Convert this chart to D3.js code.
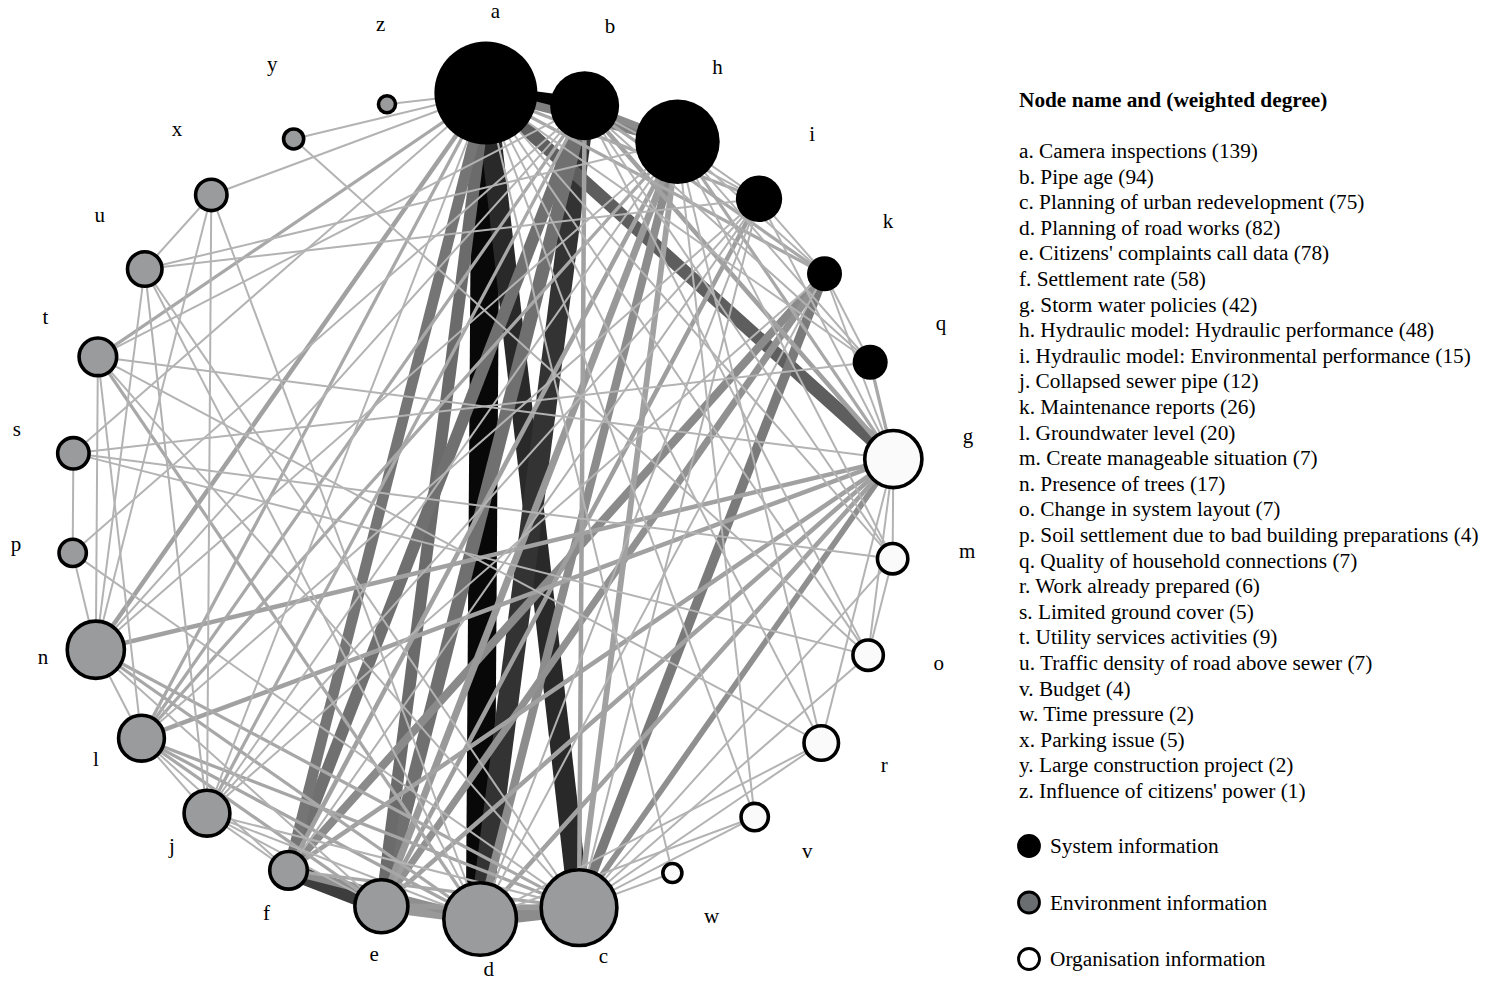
<!DOCTYPE html>
<html><head><meta charset="utf-8">
<script src="https://cdn.jsdelivr.net/npm/d3@7"></script>
<style>
body{margin:0;background:#fff}
svg{display:block}
text{font-family:"Liberation Serif","Times New Roman",serif;fill:#000}
</style>
</head><body>
<svg id="chart" width="1496" height="982"></svg>
<script>
// ---- data ----
// nodes in their clockwise order around the circle, starting at the top
const ringOrder = ["a","b","h","i","k","q","g","m","o","r","v","w","c","d","e","f","j","l","n","p","s","t","u","x","y","z"];
const legendOrder = ["a","b","c","d","e","f","g","h","i","j","k","l","m","n","o","p","q","r","s","t","u","v","w","x","y","z"];
const nodeNames = ["Camera inspections","Pipe age","Planning of urban redevelopment","Planning of road works",
  "Citizens' complaints call data","Settlement rate","Storm water policies","Hydraulic model: Hydraulic performance",
  "Hydraulic model: Environmental performance","Collapsed sewer pipe","Maintenance reports","Groundwater level",
  "Create manageable situation","Presence of trees","Change in system layout","Soil settlement due to bad building preparations",
  "Quality of household connections","Work already prepared","Limited ground cover","Utility services activities",
  "Traffic density of road above sewer","Budget","Time pressure","Parking issue","Large construction project",
  "Influence of citizens' power"];
const weightedDegree = [139,94,75,82,78,58,42,48,15,12,26,20,7,17,7,4,7,6,5,9,7,4,2,5,2,1];
const nodeGroup = ["System","System","Environment","Environment","Environment","Environment","Organisation","System",
  "System","Environment","System","Environment","Organisation","Environment","Organisation","Environment","System",
  "Organisation","Environment","Environment","Environment","Organisation","Organisation","Environment","Environment","Environment"];
// relative node size (as drawn), a = 100
const nodeSize = [100,67,77,74,55,40,59,82,45,48,34,48,33,59,33,30,34,37,34,40,37,30,22,34,23,20];
const groups = ["System","Environment","Organisation"];
const groupLabels = ["System information","Environment information","Organisation information"];

// edges: [source, target, weight, tone (0 = white .. 100 = black)]
const edges = [
  ["a","d",22,97],["a","c",16,84],["b","d",16,80],["f","e",13,76],["a","b",12,99],["d","c",12,45],
  ["a","g",10,63],["a","e",9,58],["b","e",10,56],["e","d",8,40],["a","f",8,54],["b","f",9,56],
  ["k","c",7,52],["f","d",6,44],["a","h",6,50],["b","h",5,45],["k","e",5,43],["h","d",6,45],
  ["k","f",6,46],["g","c",4,44],["e","c",4,40],["h","e",5,40],["i","e",3,38],["b","g",3,37],
  ["g","d",3,37],["g","e",3,37],["g","f",3,37],["l","g",3,37],["n","g",3,37],["n","a",3,37],
  ["b","c",3,37],["h","c",4,37],["h","f",3,37],["l","d",2,35],["l","c",2,35],["l","e",2,34],
  ["j","b",2,34],["t","a",2,34],["t","d",2,34],["i","c",1,31],["i","d",1,31],["n","c",2,34],
  ["n","d",2,34],["b","k",2,34],["a","k",2,34],["a","i",2,34],["b","i",1,31],["h","i",1,31],
  ["u","j",1,31],["l","a",2,34],["l","b",2,34],["l","h",2,34],["q","g",2,34],["b","q",1,31],
  ["f","c",2,34],["i","f",1,31],["h","g",2,34],
  ["z","a",1,30],["y","a",1,30],["y","o",1,30],["x","a",1,30],["x","u",1,30],["x","j",1,30],
  ["x","n",1,30],["x","d",1,30],["w","a",1,30],["w","c",1,30],["v","h",1,30],["v","a",1,30],
  ["v","c",1,30],["v","d",1,30],["r","a",1,30],["r","h",1,30],["r","t",1,30],["r","c",1,30],
  ["r","d",1,30],["r","g",1,30],["o","m",1,30],["o","g",1,30],["o","s",1,30],["o","a",1,30],
  ["o","c",1,30],["o","b",1,30],["m","g",1,30],["m","s",1,30],["m","h",1,30],["m","b",1,30],
  ["m","c",1,30],["m","a",1,30],["q","a",1,30],["q","h",1,30],["q","k",1,30],["q","s",1,30],
  ["p","s",1,30],["p","n",1,30],["p","c",1,30],["p","b",1,30],["s","a",1,30],["t","n",1,30],
  ["t","g",1,30],["t","l",1,30],["t","c",1,30],["u","h",1,30],["u","i",1,30],["u","n",1,30],
  ["u","d",1,30],["u","c",1,30],["n","e",1,30],["n","h",1,30],["n","l",1,30],["l","i",1,30],
  ["l","j",1,30],["l","f",1,30],["j","i",1,30],["j","a",1,30],["j","d",1,30],["j","e",1,30],
  ["j","c",1,30],["j","h",1,30],["j","f",1,30],["i","k",1,30],["i","g",1,30],["k","h",1,30],
  ["k","d",1,30],["k","g",1,30],["k","j",1,30],["b","n",1,30],["b","t",1,30]
];

// ---- layout ----
const svg = d3.select("#chart");
const cx = 483, cy = 506, R = 413;
const lcx = 492, lcy = 490, LR = 479;
const rot = 0.4*Math.PI/180;
const ang = d3.scaleLinear().domain([0, ringOrder.length]).range([rot, 2*Math.PI + rot]);
const rScale = d3.scaleLinear().domain([0,100]).range([0,51.5]);
const wScale = d3.scaleLinear().domain([1,22]).range([2,28.5]);
const tone = d3.scaleLinear().domain([0,100]).range(["#ffffff","#000000"]).interpolate(d3.interpolateRgb);
const fillOf = d3.scaleOrdinal().domain(groups).range(["#000000","#9a9b9d","#fafafa"]);
const legendFill = d3.scaleOrdinal().domain(groups).range(["#000000","#6b6e70","#ffffff"]);

const nodes = legendOrder.map((id,i)=>({id, name:nodeNames[i], deg:weightedDegree[i], group:nodeGroup[i], size:nodeSize[i]}));
const byId = new Map(nodes.map(n=>[n.id,n]));
ringOrder.forEach((id,i)=>{
  const n = byId.get(id), t = ang(i);
  n.x = cx + R*Math.sin(t); n.y = cy - R*Math.cos(t);
  n.lx = lcx + LR*Math.sin(t); n.ly = lcy - LR*Math.cos(t);
});

const links = edges.map(e=>({s:byId.get(e[0]), t:byId.get(e[1]), w:e[2], tone:e[3]}))
  .sort((p,q)=>q.w-p.w);

svg.append("g").selectAll("line").data(links).join("line")
  .attr("x1",d=>d.s.x).attr("y1",d=>d.s.y).attr("x2",d=>d.t.x).attr("y2",d=>d.t.y)
  .attr("stroke",d=>tone(d.tone)).attr("stroke-width",d=>wScale(d.w)).attr("stroke-linecap","butt");

const sw = 3.6;
svg.append("g").selectAll("circle").data(nodes).join("circle")
  .attr("cx",d=>d.x).attr("cy",d=>d.y)
  .attr("r",d=>d.group==="System" ? rScale(d.size) : rScale(d.size)-sw/2)
  .attr("fill",d=>fillOf(d.group))
  .attr("stroke",d=>d.group==="System" ? "none" : "#000")
  .attr("stroke-width",sw);

svg.append("g").selectAll("text").data(nodes).join("text")
  .attr("x",d=>d.lx).attr("y",d=>d.ly)
  .attr("text-anchor","middle").attr("dominant-baseline","central")
  .style("font-size","21px").text(d=>d.id);

// ---- legend ----
const fs = "21.3px";
const lg = svg.append("g");
lg.append("text").attr("x",1019).attr("y",107).style("font-size",fs).style("font-weight","bold")
  .text("Node name and (weighted degree)");
const rowY = d3.scalePoint().domain(legendOrder).range([158, 798]);
lg.selectAll("text.item").data(nodes).join("text").attr("class","item")
  .attr("x",1019).attr("y",d=>rowY(d.id)).style("font-size",fs)
  .text(d=>`${d.id}. ${d.name} (${d.deg})`);
const gY = d3.scalePoint().domain(groups).range([846, 959]);
lg.selectAll("circle").data(groups).join("circle")
  .attr("cx",1029).attr("cy",d=>gY(d)).attr("r",10.5)
  .attr("fill",d=>legendFill(d)).attr("stroke","#000").attr("stroke-width",2.8);
lg.selectAll("text.grp").data(groups).join("text").attr("class","grp")
  .attr("x",1050).attr("y",d=>gY(d)+7).style("font-size",fs)
  .text((d,i)=>groupLabels[i]);
</script>
</body></html>
